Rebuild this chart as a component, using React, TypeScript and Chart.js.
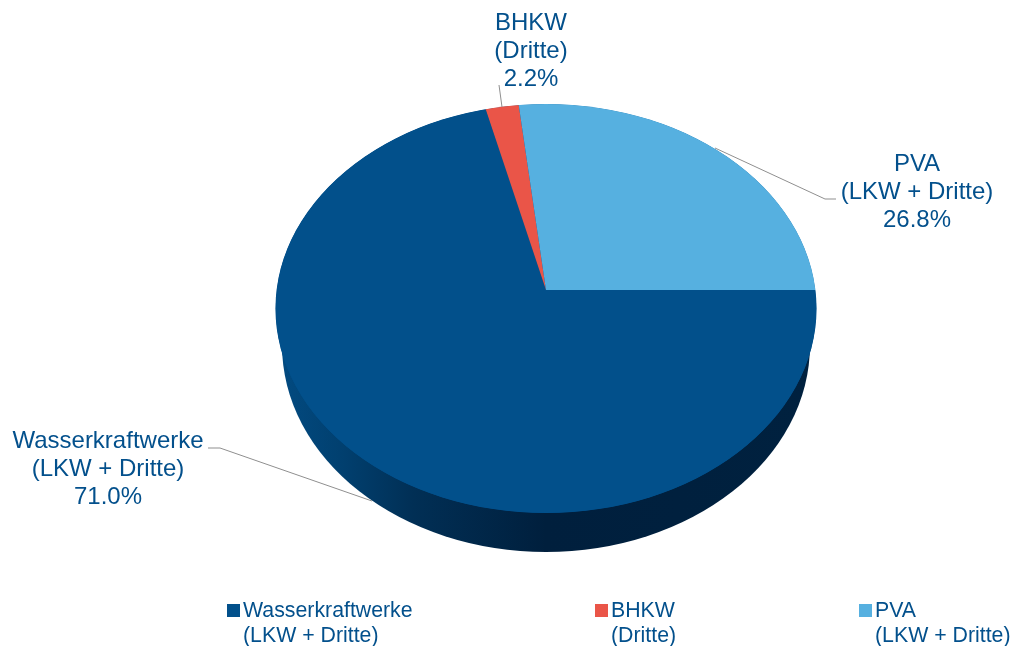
import React, { useEffect, useRef } from "react";
import { Chart, registerables } from "chart.js";

Chart.register(...registerables);

const categories = ["Wasserkraftwerke", "BHKW", "PVA"];
const subLabels = ["(LKW + Dritte)", "(Dritte)", "(LKW + Dritte)"];
const shares = [71.0, 2.2, 26.8];
const colors = ["#02508b", "#ea5548", "#56b0e0"];

const TEXT = "#03508c";
const FONT = '"Liberation Sans", Arial, sans-serif';
const W = 1015;
const H = 646;
const APEX = { x: 546, y: 290 };
const TOP = { cx: 546, cy: 308.5, rx: 270.5, ry: 204.5 };
const SIDE = { cx: 546, cy: 345, rx: 264, ry: 207 };
const TILT = 0.77;

const leaderLines = [
  [[208, 448], [220, 448], [372, 501]],
  [[499, 85], [502, 107]],
  [[836, 199], [825, 199], [715, 148]],
];

const labelCenters = [
  { x: 108, y: 426 },
  { x: 531, y: 8 },
  { x: 917, y: 149 },
];
const legendX = [227, 595, 859];

const piePerspective = {
  id: "piePerspective",
  beforeDatasetsDraw(chart: any) {
    const ctx = chart.ctx;
    ctx.save();
    const g = ctx.createLinearGradient(SIDE.cx - SIDE.rx, 0, SIDE.cx + SIDE.rx, 0);
    g.addColorStop(0, "#024a80");
    g.addColorStop(0.12, "#013f6e");
    g.addColorStop(0.25, "#012f55");
    g.addColorStop(0.5, "#001f3d");
    g.addColorStop(1, "#00213f");
    ctx.fillStyle = g;
    ctx.beginPath();
    ctx.ellipse(SIDE.cx, SIDE.cy, SIDE.rx, SIDE.ry, 0, 0, Math.PI * 2);
    ctx.fill();
    ctx.restore();
    ctx.save();
    ctx.beginPath();
    ctx.ellipse(TOP.cx, TOP.cy, TOP.rx, TOP.ry, 0, 0, Math.PI * 2);
    ctx.clip();
    ctx.fillStyle = colors[0];
    ctx.fill();
    ctx.translate(0, APEX.y);
    ctx.scale(1, TILT);
    ctx.translate(0, -APEX.y);
  },
  afterDatasetsDraw(chart: any) {
    const ctx = chart.ctx;
    ctx.restore();
    ctx.save();
    ctx.strokeStyle = "#8f8f8f";
    ctx.lineWidth = 1;
    for (const line of leaderLines) {
      ctx.beginPath();
      line.forEach(([x, y], i) => (i ? ctx.lineTo(x, y) : ctx.moveTo(x, y)));
      ctx.stroke();
    }
    ctx.restore();
  },
};

export default function App() {
  const ref = useRef<HTMLCanvasElement | null>(null);
  useEffect(() => {
    const chart = new Chart(ref.current as HTMLCanvasElement, {
      type: "pie",
      data: {
        labels: categories,
        datasets: [
          {
            data: shares,
            backgroundColor: colors,
            borderWidth: 0,
            radius: 420,
            clip: false,
          } as any,
        ],
      },
      options: {
        responsive: false,
        animation: false,
        devicePixelRatio: 1,
        rotation: 90,
        events: [],
        layout: { padding: { left: 77, right: 0, top: 0, bottom: 66 } },
        plugins: { legend: { display: false }, tooltip: { enabled: false } },
      } as any,
      plugins: [piePerspective],
    });
    return () => chart.destroy();
  }, []);

  return (
    <div style={{ position: "absolute", left: 0, top: 0, width: W, height: H, background: "#fff", fontFamily: FONT, color: TEXT }}>
      <canvas ref={ref} width={W} height={H} style={{ position: "absolute", left: 0, top: 0, width: W, height: H }} />
      {categories.map((c, i) => (
        <div
          key={c}
          style={{
            position: "absolute",
            left: labelCenters[i].x - 120,
            top: labelCenters[i].y,
            width: 240,
            textAlign: "center",
            fontSize: 24,
            lineHeight: "28px",
            whiteSpace: "nowrap",
          }}
        >
          <div>{c}</div>
          <div>{subLabels[i]}</div>
          <div>{shares[i].toFixed(1)}%</div>
        </div>
      ))}
      {categories.map((c, i) => (
        <div key={"l" + c} style={{ position: "absolute", left: legendX[i], top: 598, whiteSpace: "nowrap" }}>
          <div style={{ position: "absolute", left: 0, top: 6, width: 13, height: 13, background: colors[i] }} />
          <div style={{ marginLeft: 16, fontSize: 21.3, lineHeight: "25px" }}>
            <div>{c}</div>
            <div>{subLabels[i]}</div>
          </div>
        </div>
      ))}
    </div>
  );
}
